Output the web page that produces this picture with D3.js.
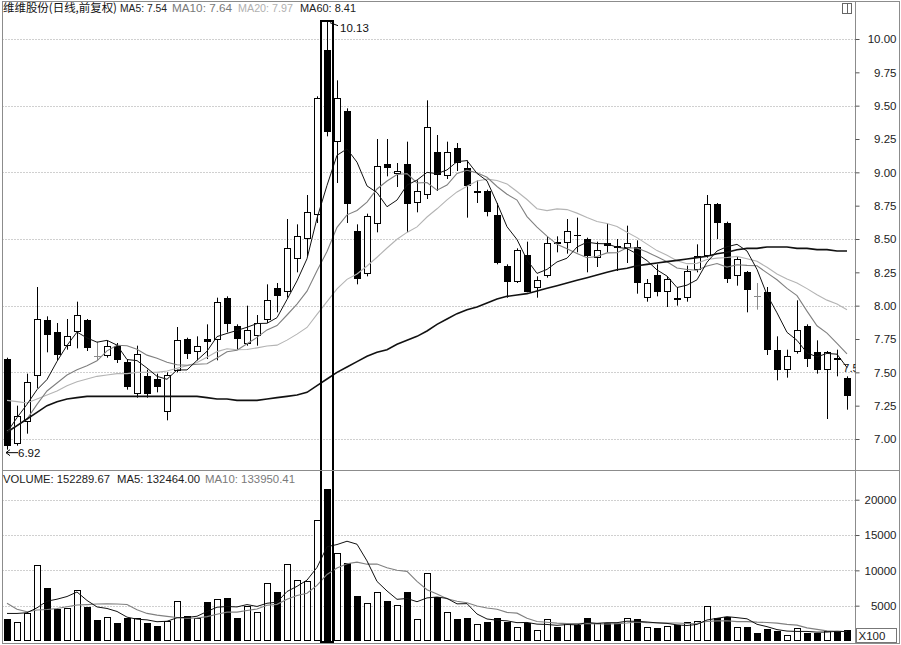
<!DOCTYPE html>
<html><head><meta charset="utf-8">
<script src="https://cdn.jsdelivr.net/npm/d3@7"></script>
<style>
body{margin:0;background:#fff;}
svg{display:block;font-family:"Liberation Sans",Arial,sans-serif;}
</style></head><body>
<svg id="c" width="901" height="645"></svg>
<script>
// ---- data ----
const open  = [7.60,6.96,7.13,7.47,7.89,7.80,7.70,7.80,7.89,7.62,7.62,7.70,7.58,7.34,7.47,7.45,7.20,7.51,7.75,7.65,7.75,7.74,8.06,7.85,7.71,7.77,7.89,8.13,8.10,8.35,8.50,8.68,9.92,9.23,9.46,8.56,8.24,8.61,9.06,8.99,9.06,8.77,8.83,9.15,8.97,9.18,9.03,8.85,8.86,8.68,8.30,8.18,8.38,8.13,8.22,8.48,8.47,8.53,8.50,8.36,8.47,8.45,8.43,8.44,8.06,8.23,8.10,8.06,8.06,8.27,8.37,8.76,8.62,8.22,8.25,8.07,8.10,7.67,7.52,7.65,7.85,7.65,7.52,7.61,7.46];
const high  = [7.61,7.25,7.49,8.14,7.92,7.87,7.90,8.03,7.90,7.73,7.74,7.72,7.60,7.70,7.52,7.49,7.50,7.84,7.76,7.77,7.86,8.06,8.07,7.86,8.00,7.93,8.16,8.17,8.65,8.61,8.83,9.57,10.13,9.69,9.48,8.61,8.69,9.25,9.25,9.07,9.23,8.94,9.54,9.28,9.23,9.22,9.09,8.94,8.87,8.77,8.31,8.43,8.48,8.22,8.52,8.52,8.65,8.66,8.51,8.48,8.62,8.50,8.60,8.49,8.20,8.31,8.22,8.14,8.30,8.46,8.83,8.77,8.63,8.37,8.26,8.17,8.14,7.77,7.67,8.04,7.86,7.74,7.66,7.67,7.47];
const low   = [6.92,6.95,7.04,7.38,7.65,7.59,7.67,7.68,7.66,7.59,7.61,7.57,7.37,7.31,7.31,7.35,7.14,7.50,7.60,7.59,7.60,7.59,7.80,7.67,7.70,7.70,7.87,7.95,8.06,8.25,8.37,8.62,9.27,8.92,8.62,8.16,8.22,8.55,8.97,8.89,8.55,8.70,8.80,8.86,8.95,9.01,8.66,8.77,8.67,8.31,8.06,8.17,8.10,8.06,8.21,8.40,8.39,8.40,8.25,8.29,8.40,8.26,8.32,8.09,8.03,8.07,7.99,8.00,8.03,8.25,8.36,8.50,8.17,8.15,7.95,7.97,7.63,7.44,7.46,7.64,7.54,7.49,7.15,7.47,7.22];
const close = [6.95,7.17,7.43,7.90,7.78,7.63,7.77,7.93,7.68,7.62,7.70,7.59,7.39,7.64,7.34,7.39,7.48,7.74,7.64,7.70,7.73,8.03,7.86,7.75,7.82,7.87,8.04,8.07,8.43,8.52,8.70,9.56,9.30,9.56,8.76,8.20,8.67,9.05,9.03,9.01,8.76,8.86,9.34,8.98,9.15,9.07,8.90,8.86,8.70,8.32,8.18,8.42,8.10,8.19,8.47,8.46,8.56,8.52,8.37,8.42,8.45,8.43,8.47,8.17,8.17,8.10,8.20,8.04,8.26,8.37,8.76,8.62,8.20,8.35,8.12,8.07,7.67,7.52,7.62,7.82,7.60,7.52,7.65,7.59,7.32];
// volume in units of 100 shares
const volume = [3115,2740,4010,10760,7550,4530,4625,7220,4767,2970,3445,2500,3210,3305,2500,2125,2830,5665,3587,3305,5475,5900,6137,3305,4955,4153,8165,6890,10855,8640,8543,17135,21520,12415,10997,6420,5335,6985,5665,5100,6985,3068,9677,6278,4153,3115,3210,2360,2740,3305,2643,1935,2500,1560,3068,2030,2500,2265,3210,2500,2500,2500,3305,3115,2030,1888,2125,2265,2643,2830,4995,3305,3445,1935,2030,1100,1650,1350,900,1772,1100,1150,1400,1450,1523];
// MA60 (needs history before the first candle)
const ma60 = [7.05,7.10,7.15,7.20,7.25,7.28,7.30,7.31,7.32,7.32,7.32,7.32,7.32,7.32,7.32,7.32,7.32,7.32,7.32,7.32,7.31,7.30,7.30,7.29,7.29,7.29,7.30,7.31,7.32,7.33,7.35,7.40,7.45,7.50,7.54,7.58,7.62,7.65,7.67,7.71,7.74,7.77,7.81,7.86,7.90,7.94,7.97,7.99,8.02,8.05,8.07,8.08,8.09,8.11,8.13,8.15,8.17,8.19,8.21,8.23,8.25,8.27,8.28,8.30,8.31,8.32,8.33,8.34,8.35,8.36,8.37,8.39,8.40,8.42,8.43,8.43,8.44,8.44,8.44,8.43,8.43,8.42,8.42,8.41,8.41];
// leading MA values (before a full window exists)
const ma5Lead  = [7.05,7.16,7.26,7.37];
const ma10Lead = [7.06,7.10,7.15,7.26,7.36,7.42,7.48,7.52,7.55];
const ma20Lead = [7.29,7.28,7.27,7.30,7.33,7.36,7.40,7.43,7.45,7.47,7.48,7.49,7.49,7.50,7.50,7.50,7.51,7.53,7.55];
const volMa5Lead  = [3900,3900,4000,4700];
const volMa10Lead = [5340,4500,4150,4390,4450,4600,4850,5100,5150];
const priceTicks = [7.00,7.25,7.50,7.75,8.00,8.25,8.50,8.75,9.00,9.25,9.50,9.75,10.00];
const priceGrid = [7.0,7.5,8.0,8.5,9.0,9.5,10.0];
const volTicks = [5000,10000,15000,20000];
const title = "维维股份(日线,前复权)";
const headLabels = [["MA5: 7.54",120,"#222"],["MA10: 7.64",172,"#7a7a7a"],["MA20: 7.97",238,"#b0b0b0"],["MA60: 8.41",300,"#222"]];
const volLabels = [["VOLUME: 152289.67",3,"#222"],["MA5: 132464.00",117,"#222"],["MA10: 133950.41",205,"#7a7a7a"]];
const selIndex = 32, lowIndex = 0;

// ---- helpers ----
function sma(arr, n, lead){ return arr.map((_,i)=> i<n-1 ? lead[i] : d3.mean(arr.slice(i-n+1,i+1))); }
const ma5 = sma(close,5,ma5Lead), ma10 = sma(close,10,ma10Lead), ma20 = sma(close,20,ma20Lead);
const vma5 = sma(volume,5,volMa5Lead), vma10 = sma(volume,10,volMa10Lead);

const svg = d3.select('#c');
const L=2.5, R=855.5, T=1.5, MID=470.5, B=643.5, RIGHT=899.5;
const x  = d3.scaleLinear().domain([0,close.length-1]).range([7,847]);
const y  = d3.scaleLinear().domain([7,10]).range([439,39]);
const yv = d3.scaleLinear().domain([0,20000]).range([641,499.7]);

const defs = svg.append('defs');
defs.append('clipPath').attr('id','cp').append('rect').attr('x',L).attr('y',T).attr('width',R-L).attr('height',MID-T);
defs.append('clipPath').attr('id','cv').append('rect').attr('x',L).attr('y',MID).attr('width',R-L).attr('height',B-MID);

// grid
const g = svg.append('g');
g.selectAll('.pg').data(priceGrid).join('line').attr('x1',L).attr('x2',R)
  .attr('y1',d=>Math.round(y(d))+0.5).attr('y2',d=>Math.round(y(d))+0.5)
  .attr('stroke','#a0a0a0').attr('stroke-dasharray','1,2');
g.selectAll('.vg').data(volTicks).join('line').attr('x1',L).attr('x2',R)
  .attr('y1',d=>Math.round(yv(d))+0.5).attr('y2',d=>Math.round(yv(d))+0.5)
  .attr('stroke','#a0a0a0').attr('stroke-dasharray','1,2');

// candles
const pc = svg.append('g').attr('clip-path','url(#cp)');
close.forEach((c,i)=>{
  const o=open[i], cx=Math.round(x(i));
  pc.append('line').attr('x1',cx+0.5).attr('x2',cx+0.5)
    .attr('y1',y(high[i])).attr('y2',y(low[i]))
    .attr('stroke', o===c ? '#8a8a8a' : '#000').attr('stroke-width',1);
  if(o===c){
    const yy=Math.round(y(c))+0.5;
    pc.append('line').attr('x1',cx-3).attr('x2',cx+4).attr('y1',yy).attr('y2',yy).attr('stroke','#8a8a8a');
    return;
  }
  const top=Math.round(y(Math.max(o,c))), bot=Math.round(y(Math.min(o,c)));
  if(c>o){
    pc.append('rect').attr('x',cx-3+0.5).attr('y',top+0.5).attr('width',6).attr('height',Math.max(1,bot-top-1))
      .attr('fill','#fff').attr('stroke','#000');
  } else {
    pc.append('rect').attr('x',cx-3).attr('y',top).attr('width',7).attr('height',Math.max(1,bot-top))
      .attr('fill','#000');
  }
});

// MA lines (price)
const line = d3.line().x((d,i)=>x(i)).y(d=>y(d));
const maG = svg.append('g').attr('clip-path','url(#cp)').attr('fill','none');
maG.append('path').attr('d',line(ma20)).attr('stroke','#b4b4b4').attr('stroke-width',1.1);
maG.append('path').attr('d',line(ma10)).attr('stroke','#808080').attr('stroke-width',1.1);
maG.append('path').attr('d',line(ma60)).attr('stroke','#111').attr('stroke-width',1.6);
maG.append('path').attr('d',line(ma5)).attr('stroke','#111').attr('stroke-width',1);

// volume bars
const vg = svg.append('g').attr('clip-path','url(#cv)');
volume.forEach((v,i)=>{
  const cx=Math.round(x(i)), top=Math.round(yv(v)), bot=641;
  if(close[i]>open[i]){
    vg.append('rect').attr('x',cx-3+0.5).attr('y',top+0.5).attr('width',6).attr('height',bot-top-1)
      .attr('fill','#fff').attr('stroke','#000');
  } else {
    vg.append('rect').attr('x',cx-3).attr('y',top).attr('width',7).attr('height',bot-top).attr('fill','#000');
  }
});
const vline = d3.line().x((d,i)=>x(i)).y(d=>yv(d));
vg.append('path').attr('d',vline(vma10)).attr('fill','none').attr('stroke','#808080').attr('stroke-width',1.1);
vg.append('path').attr('d',vline(vma5)).attr('fill','none').attr('stroke','#111').attr('stroke-width',1);

// selection box around the highlighted candle
const sx = x(selIndex);
svg.append('rect').attr('x',sx-6).attr('y',21).attr('width',12).attr('height',621)
  .attr('fill','none').attr('stroke','#000').attr('stroke-width',2);

// frame
svg.append('rect').attr('x',L).attr('y',T).attr('width',RIGHT-L).attr('height',B-T).attr('fill','none').attr('stroke','#8c8c8c');
svg.append('line').attr('x1',L).attr('x2',RIGHT).attr('y1',MID).attr('y2',MID).attr('stroke','#8c8c8c');
svg.append('line').attr('x1',R).attr('x2',R).attr('y1',T).attr('y2',B).attr('stroke','#8c8c8c');
// small icon top-right
svg.append('rect').attr('x',842.5).attr('y',3.5).attr('width',9).attr('height',10).attr('fill','#fff').attr('stroke','#666');
svg.append('line').attr('x1',847.5).attr('x2',847.5).attr('y1',3.5).attr('y2',13.5).attr('stroke','#666');

// axes
const pAxis = d3.axisRight(y).tickValues(priceTicks).tickSize(4).tickFormat(d3.format('.2f'));
const pa = svg.append('g').attr('transform',`translate(${R},0)`).call(pAxis);
const vAxis = d3.axisRight(yv).tickValues(volTicks).tickSize(4).tickFormat(d3.format('d'));
const va = svg.append('g').attr('transform',`translate(${R},0)`).call(vAxis);
[pa,va].forEach(a=>{
  a.select('.domain').remove();
  a.selectAll('.tick line').attr('stroke','#555');
  a.selectAll('.tick text').attr('x',41).attr('text-anchor','end').attr('fill','#222')
    .style('font-size','11.5px').style('font-family','"Liberation Sans",Arial,sans-serif');
});
svg.append('rect').attr('x',856.5).attr('y',628.5).attr('width',40).attr('height',14).attr('fill','#fff').attr('stroke','#777');
svg.append('text').attr('x',858.5).attr('y',640).text('X100').attr('fill','#222').style('font-size','11.5px');

// header texts (widths fitted to the reference)
const headW = [47,60,55,56], volW = [107,83,90];
svg.append('text').attr('x',3).attr('y',12).text(title).attr('fill','#111')
  .attr('textLength',114).attr('lengthAdjust','spacingAndGlyphs')
  .style('font-family','"Noto Sans CJK SC",sans-serif').style('font-size','11.5px');
svg.selectAll('.hl').data(headLabels).join('text').attr('x',d=>d[1]).attr('y',12).text(d=>d[0])
  .attr('textLength',(d,i)=>headW[i]).attr('lengthAdjust','spacingAndGlyphs')
  .attr('fill',d=>d[2]).style('font-size','11.5px');
svg.selectAll('.vl').data(volLabels).join('text').attr('x',d=>d[1]).attr('y',483).text(d=>d[0])
  .attr('textLength',(d,i)=>volW[i]).attr('lengthAdjust','spacingAndGlyphs')
  .attr('fill',d=>d[2]).style('font-size','11.5px');

// annotations: high and low
const hx = x(selIndex), hy = y(high[selIndex]);
svg.append('path').attr('d',`M${hx+3},${hy+1}L${hx+11},${hy+4}`).attr('stroke','#000').attr('fill','none');
svg.append('text').attr('x',hx+13).attr('y',hy+10).text(d3.format('.2f')(high[selIndex])).style('font-size','11.5px').attr('fill','#111');
const lx = x(lowIndex), ly = y(low[lowIndex])+3;
svg.append('path').attr('d',`M${lx-1},${ly}L${lx+11},${ly}M${lx-1},${ly}L${lx+3},${ly-3}M${lx-1},${ly}L${lx+3},${ly+3}`)
  .attr('stroke','#000').attr('fill','none');
svg.append('text').attr('x',lx+11).attr('y',ly+4).text(d3.format('.2f')(low[lowIndex])).style('font-size','11.5px').attr('fill','#111');
// current MA5 value tag clipped at the axis
svg.append('g').attr('clip-path','url(#cp)').append('text').attr('x',843).attr('y',y(ma5[ma5.length-1])+4)
  .text(d3.format('.2f')(ma5[ma5.length-1])).style('font-size','11.5px').attr('fill','#111');
</script>
</body></html>
